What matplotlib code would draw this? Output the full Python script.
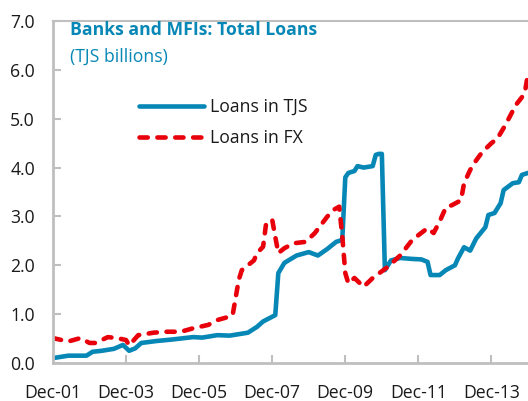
import matplotlib
matplotlib.use("Agg")
import matplotlib.pyplot as plt
from matplotlib.ticker import FixedLocator

# months since Dec-01
tjs_months = [0, 5, 11, 13, 16, 20, 23, 25, 27, 29, 34, 39, 46, 49, 54, 58, 64, 67, 69, 73,
              74, 76, 80, 84, 87, 90, 93, 95, 96, 97, 99, 100, 102, 105, 106, 107, 108,
              109, 111, 114, 118, 121, 123, 124, 127, 129, 132, 133, 135, 137, 139, 142,
              143, 145, 147, 148, 151, 153, 154, 156]
tjs_values = [0.10, 0.15, 0.15, 0.23, 0.25, 0.29, 0.37, 0.25, 0.30, 0.41, 0.45, 0.48, 0.53, 0.52,
              0.57, 0.56, 0.62, 0.74, 0.85, 0.98,
              1.84, 2.05, 2.20, 2.27, 2.20, 2.33, 2.48, 2.52, 3.80, 3.89, 3.93, 4.03, 4.00,
              4.03, 4.26, 4.28, 4.28,
              1.90, 2.10, 2.15, 2.13, 2.12, 2.07, 1.80, 1.80, 1.90, 2.00, 2.14, 2.37, 2.30,
              2.55, 2.78, 3.03, 3.07, 3.27, 3.54, 3.68, 3.70, 3.85, 3.89]

fx_months = [0, 5, 9, 12, 14, 18, 21, 24, 25, 28, 33, 37, 42, 46, 51, 54, 58, 59, 61, 62, 64,
             66, 67, 69, 70, 72, 73, 74, 76, 79, 83, 86, 90, 92, 94, 95, 96, 97, 99, 102,
             105, 110, 114, 118, 123, 125, 127, 129, 131, 134, 135, 137, 139, 141, 144,
             146, 148, 150, 152, 154, 155, 156]
fx_values = [0.51, 0.44, 0.51, 0.41, 0.41, 0.53, 0.51, 0.47, 0.36, 0.57, 0.62, 0.64, 0.64, 0.71,
             0.78, 0.88, 0.95, 0.98, 1.70, 1.90, 2.00, 2.10, 2.25, 2.38, 2.86, 2.93, 2.58,
             2.25, 2.35, 2.45, 2.48, 2.66, 2.99, 3.13, 3.20, 2.60, 1.84, 1.63, 1.74, 1.56,
             1.74, 1.97, 2.20, 2.52, 2.76, 2.66, 2.90, 3.18, 3.23, 3.33, 3.68, 3.95, 4.15,
             4.32, 4.50, 4.60, 4.81, 5.04, 5.28, 5.44, 5.55, 5.92]

tick_months = [0, 24, 48, 72, 96, 120, 144]
tick_labels = ["Dec-01", "Dec-03", "Dec-05", "Dec-07", "Dec-09", "Dec-11", "Dec-13"]
y_ticks = [0.0, 1.0, 2.0, 3.0, 4.0, 5.0, 6.0, 7.0]

BLUE = "#0787b5"
RED = "#e8000b"
GRAY = "#bfbfbf"
FS = 12.7

plt.rcParams['font.family'] = ['Open Sans', 'DejaVu Sans']

fig = plt.figure(figsize=(5.28, 4.01), dpi=100)
ax = fig.add_axes([53/528, 1 - 363/401, 1 - 53/528, (363 - 21)/401])

ax.plot(tjs_months, tjs_values, color=BLUE, lw=3.3, solid_capstyle='round',
        solid_joinstyle='round', label="Loans in TJS")
ax.plot(fx_months, fx_values, color=RED, lw=3.3, dashes=(1.8, 2.1),
        dash_capstyle='round', dash_joinstyle='round', label="Loans in FX")

ax.set_xlim(0, 156)
ax.set_ylim(0, 7)
ax.xaxis.set_major_locator(FixedLocator(tick_months))
ax.set_xticklabels(tick_labels)
ax.set_yticks(y_ticks)
ax.set_yticklabels([f"{v:.1f}" for v in y_ticks])

for s in ['left', 'bottom']:
    ax.spines[s].set_color(GRAY)
    ax.spines[s].set_linewidth(2)
ax.spines['top'].set_color(GRAY)
ax.spines['top'].set_linewidth(1.5)
ax.spines['right'].set_visible(False)

ax.tick_params(axis='both', direction='in', length=6, width=1.5, color=GRAY,
               labelsize=FS, labelcolor='#1a1a1a')
ax.tick_params(axis='y', pad=13)
ax.tick_params(axis='x', pad=15)

ax.text(70/528, 1 - 30/401, "Banks and MFIs: Total Loans", transform=fig.transFigure,
        fontsize=FS, fontweight='bold', color=BLUE, va='center', ha='left')
ax.text(70/528, 1 - 57/401, "(TJS billions)", transform=fig.transFigure,
        fontsize=FS, color=BLUE, va='center', ha='left')

leg = ax.legend(loc='upper left', bbox_to_anchor=(139/528, 1 - 98/401),
                bbox_transform=fig.transFigure, frameon=False, fontsize=FS,
                handlelength=3.7, handletextpad=0.3, labelspacing=0.75,
                borderaxespad=0, borderpad=0)
for t in leg.get_texts():
    t.set_color('#1a1a1a')

fig.savefig("out.png", dpi=100)
